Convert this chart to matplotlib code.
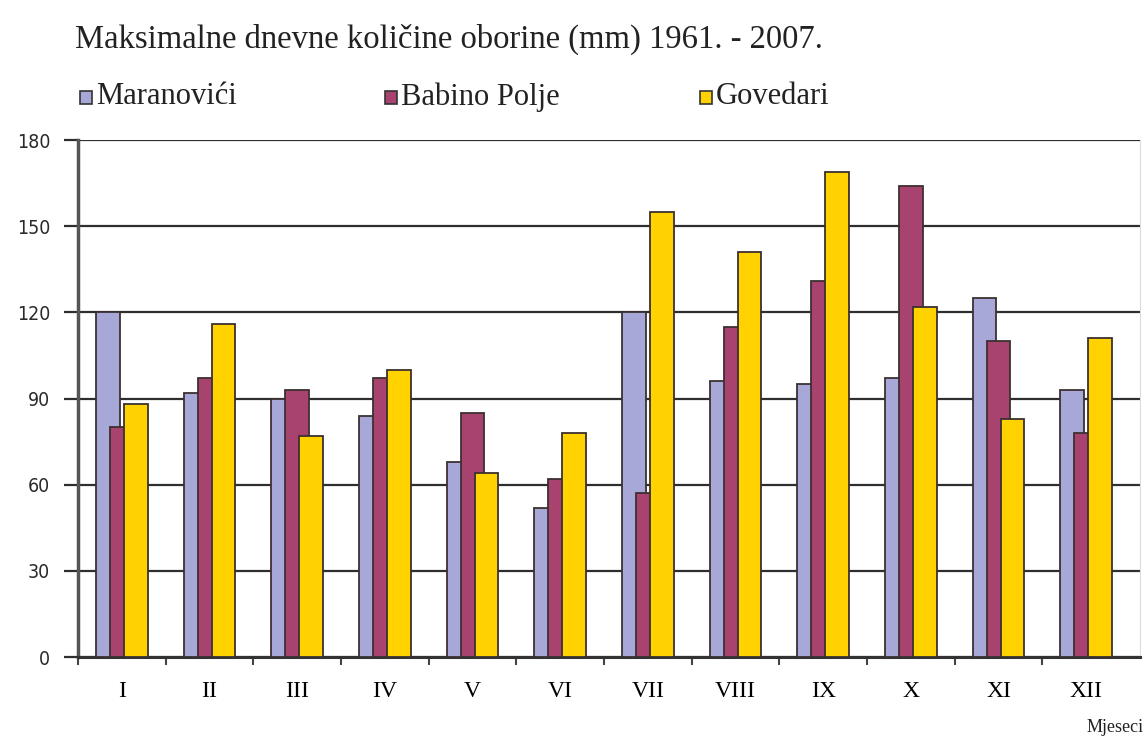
import matplotlib
matplotlib.use("Agg")
import matplotlib.pyplot as plt
import numpy as np

# Podaci (mm), očitani s grafa
mjeseci = ["I", "II", "III", "IV", "V", "VI", "VII", "VIII", "IX", "X", "XI", "XII"]
maranovici = [120, 92, 90, 84, 68, 52, 120, 96, 95, 97, 125, 93]
babino_polje = [80, 97, 93, 97, 85, 62, 57, 115, 131, 164, 110, 78]
govedari = [88, 116, 77, 100, 64, 78, 155, 141, 169, 122, 83, 111]

serija = ["Maranovići", "Babino Polje", "Govedari"]
boje = ["#a8a8d8", "#a8436f", "#ffd200"]

fig = plt.figure(figsize=[11.44, 7.44], dpi=100)
ax = fig.add_axes([0.0682, 0.1169, 0.928, 0.6949])

x = np.arange(len(mjeseci))
sirina = 0.27
pomak = 0.16
for k, vals in enumerate([maranovici, babino_polje, govedari]):
    ax.bar(x + (k - 1) * pomak, vals, width=sirina, color=boje[k],
           edgecolor="#3b3030", linewidth=1.3, zorder=3 + k)

ax.set_xlim(-0.5, 11.61)
ax.set_ylim(0, 180)
ax.set_yticks(range(0, 181, 30))
ax.yaxis.grid(True, color="#2e2e2e", linewidth=1.6, zorder=1)
ax.set_axisbelow(True)

ax.set_xticks(x)
ax.set_xticklabels(mjeseci, fontfamily="Liberation Serif", fontsize=17)
ax.set_xticks(np.arange(-0.5, 11.5, 1), minor=True)
ax.tick_params(axis="x", which="major", length=0, pad=17)
ax.tick_params(axis="x", which="minor", length=6, width=1.5, color="#444444", direction="out")
ax.tick_params(axis="y", length=10, width=1.6, color="#2e2e2e", pad=10, labelsize=14)
for t in ax.get_yticklabels():
    t.set_fontfamily("DejaVu Sans")
    t.set_fontstretch("condensed")
    t.set_fontweight("medium")
    t.set_color("#2a2a2a")

ax.spines["top"].set_visible(False)
ax.spines["right"].set_color("#dddddd")
ax.spines["left"].set_color("#555555")
ax.spines["left"].set_linewidth(2.5)
ax.spines["bottom"].set_color("#333333")
ax.spines["bottom"].set_linewidth(2.2)

# naslov
fig.text(75 / 1144, 1 - 39 / 744, "Maksimalne dnevne količine oborine (mm) 1961. - 2007.",
         fontfamily="Liberation Serif", fontsize=23.5, color="#222222",
         verticalalignment="center", horizontalalignment="left")

# legenda
leg_x = [80, 385, 700]
for i in range(3):
    fig.patches.append(plt.Rectangle((leg_x[i] / 1144, 1 - 104 / 744), 12 / 1144, 13 / 744,
                                     transform=fig.transFigure, facecolor=boje[i],
                                     edgecolor="#333333", linewidth=1.2))
    fig.text((leg_x[i] + 16) / 1144, 1 - 97 / 744, serija[i],
             fontfamily="Liberation Serif", fontsize=22, color="#222222",
             verticalalignment="center", horizontalalignment="left")

fig.text(1115 / 1144, 1 - 727 / 744, "Mjeseci", fontfamily="Liberation Serif",
         fontsize=13, color="#222222", verticalalignment="center", horizontalalignment="center")

fig.savefig("out.png", dpi=100, facecolor="white")
